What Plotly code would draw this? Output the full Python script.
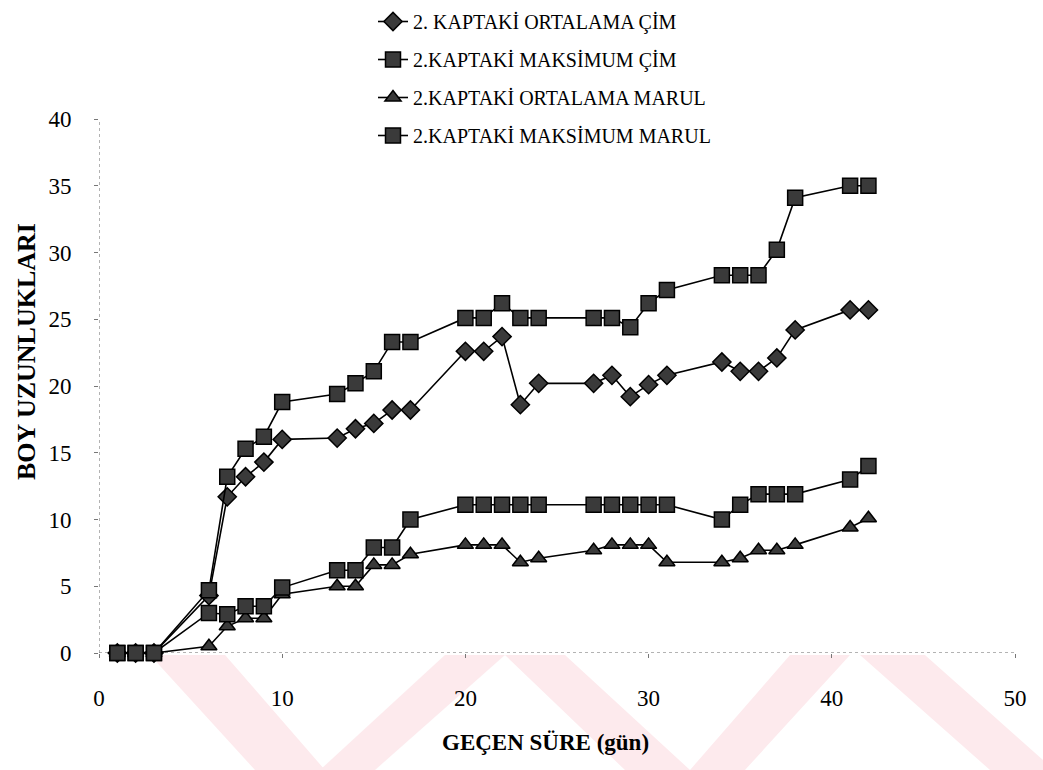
import plotly.graph_objects as go

# ---- data ----
days = [1, 2, 3, 6, 7, 8, 9, 10, 13, 14, 15, 16, 17, 20, 21, 22, 23, 24,
        27, 28, 29, 30, 31, 34, 35, 36, 37, 38, 41, 42]

ortalama_cim = [0, 0, 0, 4.3, 11.7, 13.2, 14.3, 16.0, 16.1, 16.8, 17.2, 18.2, 18.2,
                22.6, 22.6, 23.7, 18.6, 20.2, 20.2, 20.8, 19.2, 20.1, 20.8,
                21.8, 21.1, 21.1, 22.1, 24.2, 25.7, 25.7]

maksimum_cim = [0, 0, 0, 4.7, 13.2, 15.3, 16.2, 18.8, 19.4, 20.2, 21.1, 23.3, 23.3,
                25.1, 25.1, 26.2, 25.1, 25.1, 25.1, 25.1, 24.4, 26.2, 27.2,
                28.3, 28.3, 28.3, 30.2, 34.1, 35.0, 35.0]

ortalama_marul = [0, 0, 0, 0.5, 2.0, 2.6, 2.6, 4.4, 5.0, 5.0, 6.6, 6.6, 7.4,
                  8.1, 8.1, 8.1, 6.8, 7.1, 7.7, 8.1, 8.1, 8.1, 6.8,
                  6.8, 7.1, 7.7, 7.7, 8.1, 9.4, 10.1]

maksimum_marul = [0, 0, 0, 3.0, 2.9, 3.5, 3.5, 4.9, 6.2, 6.2, 7.9, 7.9, 10.0,
                  11.1, 11.1, 11.1, 11.1, 11.1, 11.1, 11.1, 11.1, 11.1, 11.1,
                  10.0, 11.1, 11.9, 11.9, 11.9, 13.0, 14.0]

series_names = ["2. KAPTAKİ ORTALAMA ÇİM", "2.KAPTAKİ MAKSİMUM ÇİM",
                "2.KAPTAKİ ORTALAMA MARUL", "2.KAPTAKİ MAKSİMUM MARUL"]
x_ticks = [0, 10, 20, 30, 40, 50]
y_ticks = [0, 5, 10, 15, 20, 25, 30, 35, 40]
x_title = "GEÇEN SÜRE (gün)"
y_title = "BOY UZUNLUKLARI"

# ---- layout constants ----
W, H = 1043, 770
L, R, T, B = 99, 28, 119, 117
PW, PH = W - L - R, H - T - B
SERIF = "Liberation Serif"


def px(xp, yp):
    return (xp - L) / PW, (H - B - yp) / PH


fig = go.Figure()

symbols = ["diamond", "square", "triangle-up", "square"]
sizes = [14, 15, 14, 15]
all_series = [ortalama_cim, maksimum_cim, ortalama_marul, maksimum_marul]
for i in range(4):
    fig.add_trace(go.Scatter(
        x=days, y=all_series[i], name=series_names[i],
        mode="lines+markers", legendgroup=f"g{i}",
        line=dict(color="black", width=1.6),
        marker=dict(symbol=symbols[i], size=sizes[i], color="#3a3a3a",
                    line=dict(color="black", width=1.5)),
        cliponaxis=False,
    ))

# watermark bands (faint pink)
bands = [
    [(150, 655), (225, 655), (325, 770), (255, 770)],
    [(445, 655), (505, 655), (375, 770), (320, 770)],
    [(505, 655), (565, 655), (690, 770), (625, 770)],
    [(790, 655), (850, 655), (745, 770), (690, 770)],
    [(860, 655), (925, 655), (1043, 760), (1043, 770), (990, 770)],
]
shapes = []
for poly in bands:
    pts = [px(a, b) for a, b in poly]
    path = "M " + " L ".join(f"{p[0]:.4f},{p[1]:.4f}" for p in pts) + " Z"
    shapes.append(dict(type="path", xref="paper", yref="paper", path=path,
                       fillcolor="#fdeaed", line=dict(width=0), layer="below"))

# dotted axis lines
shapes.append(dict(type="line", xref="x", yref="y", x0=0, x1=50.3, y0=0, y1=0,
                   line=dict(color="#666", width=1, dash="dot"), layer="below"))
shapes.append(dict(type="line", xref="x", yref="y", x0=0, x1=0, y0=0, y1=40,
                   line=dict(color="#666", width=1, dash="dot"), layer="below"))

annotations = [
    dict(text=f"<b>{x_title}</b>", x=px(545, 742)[0], y=px(545, 742)[1],
         xref="paper", yref="paper", showarrow=False,
         font=dict(family=SERIF, size=23, color="black"),
         xanchor="center", yanchor="middle"),
    dict(text=f"<b>{y_title}</b>", x=px(26, 352)[0], y=px(26, 352)[1],
         xref="paper", yref="paper", showarrow=False, textangle=-90,
         font=dict(family=SERIF, size=26, color="black"),
         xanchor="center", yanchor="middle"),
]

fig.update_layout(
    width=W, height=H,
    margin=dict(l=L, r=R, t=T, b=B, autoexpand=False),
    paper_bgcolor="white", plot_bgcolor="white",
    shapes=shapes, annotations=annotations,
    showlegend=True,
    legend=dict(xref="container", yref="container",
                x=373 / W, y=1 - 2 / H, xanchor="left", yanchor="top",
                traceorder="grouped", tracegroupgap=9,
                font=dict(family=SERIF, size=20, color="black"),
                bgcolor="rgba(0,0,0,0)"),
    xaxis=dict(range=[0, 50], tickvals=x_ticks, ticktext=[str(v) for v in x_ticks],
               showgrid=False, zeroline=False, showline=False,
               ticks="outside", ticklen=4, tickcolor="#777",
               ticklabelstandoff=20,
               tickfont=dict(family=SERIF, size=23, color="black")),
    yaxis=dict(range=[0, 40], tickvals=y_ticks, ticktext=[str(v) for v in y_ticks],
               showgrid=False, zeroline=False, showline=False,
               ticks="outside", ticklen=4, tickcolor="#777",
               ticklabelstandoff=18,
               tickfont=dict(family=SERIF, size=23, color="black")),
)

fig.write_html("out.html")
